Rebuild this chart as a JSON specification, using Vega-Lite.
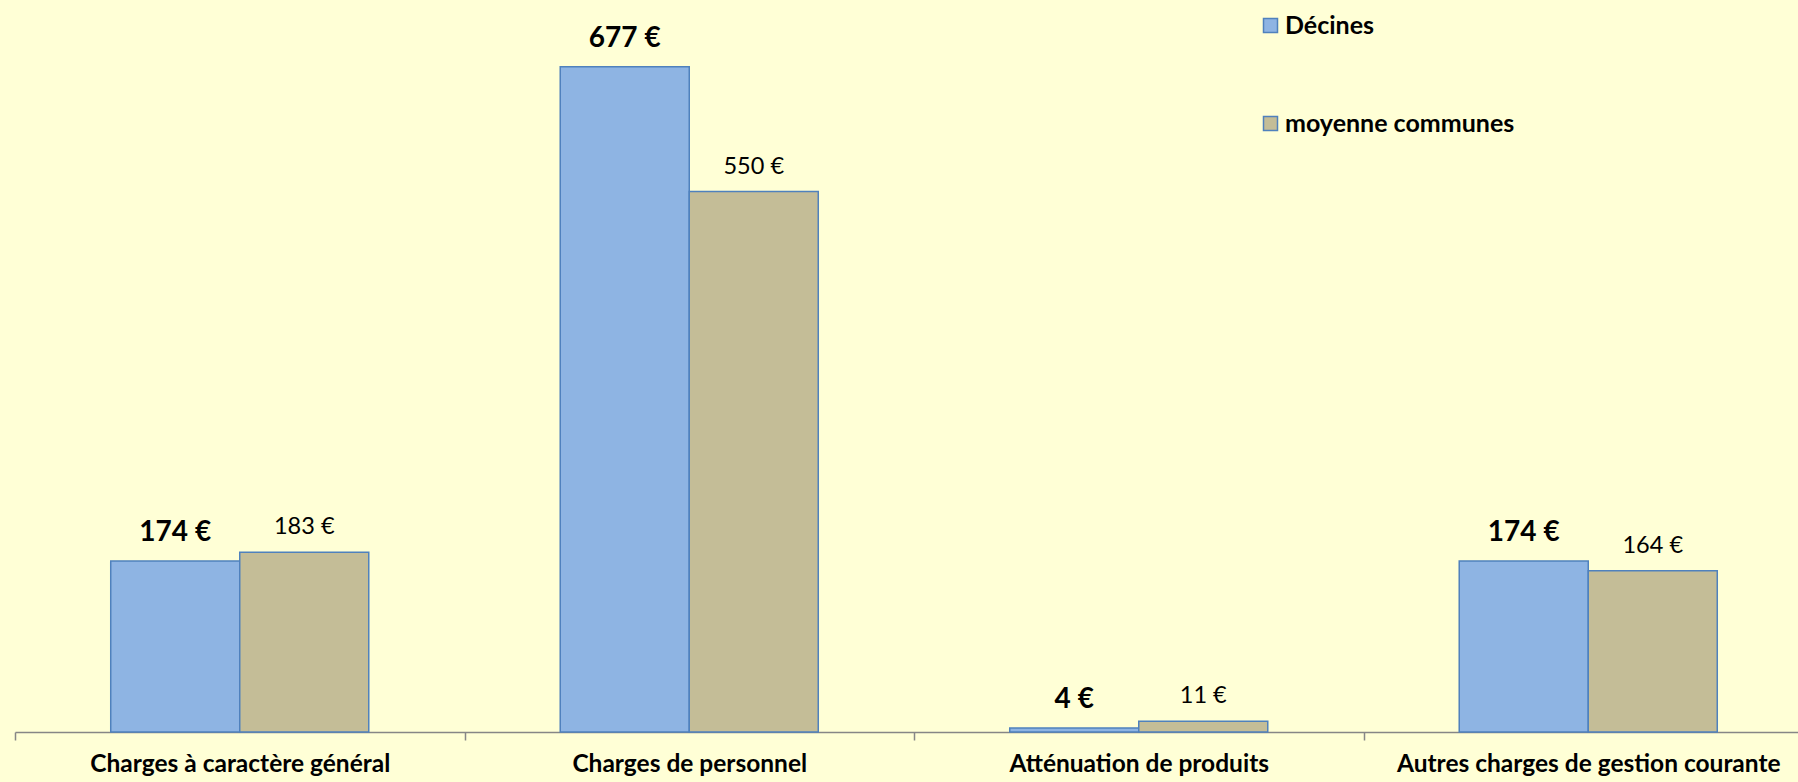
{
  "$schema": "https://vega.github.io/schema/vega-lite/v6.json",
  "autosize": "none",
  "width": 1783,
  "height": 732,
  "padding": {"left": 15, "top": 0, "right": 0, "bottom": 50},
  "background": "#FFFFD6",
  "config": {
    "view": {"stroke": null},
    "font": "Lato",
    "locale": {
      "number": {"decimal": ",", "thousands": " ", "grouping": [3], "currency": ["", " €"]}
    }
  },
  "data": {
    "values": [
      {"categorie": "Charges à caractère général", "serie": "Décines", "montant": 174},
      {"categorie": "Charges à caractère général", "serie": "moyenne communes", "montant": 183},
      {"categorie": "Charges de personnel", "serie": "Décines", "montant": 677},
      {"categorie": "Charges de personnel", "serie": "moyenne communes", "montant": 550},
      {"categorie": "Atténuation de produits", "serie": "Décines", "montant": 4},
      {"categorie": "Atténuation de produits", "serie": "moyenne communes", "montant": 11},
      {"categorie": "Autres charges de gestion courante", "serie": "Décines", "montant": 174},
      {"categorie": "Autres charges de gestion courante", "serie": "moyenne communes", "montant": 164}
    ]
  },
  "encoding": {
    "x": {
      "field": "categorie",
      "type": "nominal",
      "sort": null,
      "scale": {"paddingInner": 0, "paddingOuter": 0, "range": [0, 1798]},
      "axis": {
        "title": null,
        "labelAngle": 0,
        "labelFont": "Lato",
        "labelFontSize": 24.5,
        "labelFontWeight": "bold",
        "labelColor": "#000000",
        "labelPadding": 12,
        "labelLimit": 0,
        "domainColor": "#868686",
        "domainWidth": 1.5,
        "tickColor": "#868686",
        "tickWidth": 1.5,
        "tickSize": 8,
        "tickBand": "extent",
        "grid": false
      }
    },
    "xOffset": {
      "field": "serie",
      "type": "nominal",
      "sort": ["Décines", "moyenne communes"],
      "scale": {"paddingInner": 0, "paddingOuter": 0.742}
    },
    "y": {
      "field": "montant",
      "type": "quantitative",
      "scale": {"domain": [0, 745], "nice": false, "zero": true},
      "axis": null
    }
  },
  "layer": [
    {
      "mark": {"type": "bar", "stroke": "#4F81BD", "strokeWidth": 1.5},
      "encoding": {
        "color": {
          "field": "serie",
          "type": "nominal",
          "sort": ["Décines", "moyenne communes"],
          "scale": {"domain": ["Décines", "moyenne communes"], "range": ["#8EB4E3", "#C4BD97"]},
          "legend": {
            "title": null,
            "orient": "none",
            "legendX": 1243,
            "legendY": 13,
            "direction": "vertical",
            "symbolType": "square",
            "symbolSize": 196,
            "symbolStrokeColor": "#4F81BD",
            "symbolStrokeWidth": 1.5,
            "symbolOpacity": 1,
            "labelFont": "Lato",
            "labelFontSize": 25,
            "labelFontWeight": "bold",
            "labelColor": "#000000",
            "labelOffset": 2,
            "labelLimit": 0,
            "rowPadding": 72
          }
        }
      }
    },
    {
      "transform": [{"filter": "datum.serie === 'Décines'"}],
      "mark": {"type": "text", "baseline": "middle", "align": "center", "dy": -28, "fontSize": 28, "fontWeight": "bold", "font": "Lato", "color": "#000000"},
      "encoding": {
        "text": {"field": "montant", "type": "quantitative", "format": "$,.0f"}
      }
    },
    {
      "transform": [{"filter": "datum.serie === 'moyenne communes'"}],
      "mark": {"type": "text", "baseline": "middle", "align": "center", "dy": -25, "fontSize": 23.5, "fontWeight": "normal", "font": "Lato", "color": "#000000"},
      "encoding": {
        "text": {"field": "montant", "type": "quantitative", "format": "$,.0f"}
      }
    }
  ]
}
